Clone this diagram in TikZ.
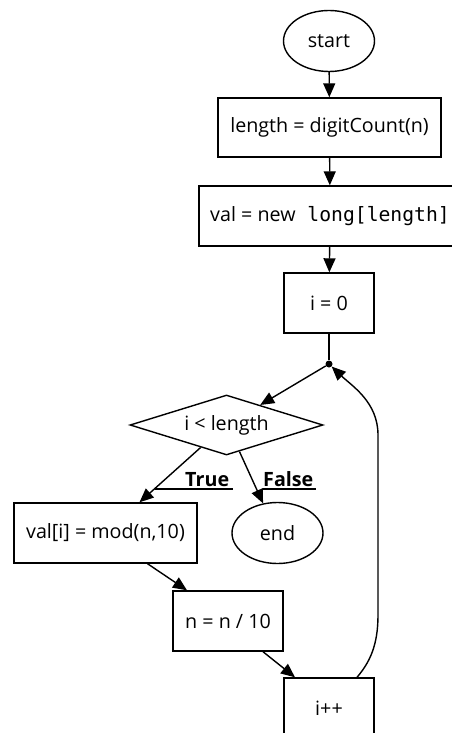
\documentclass[tikz,border=0pt]{standalone}
\usepackage{fontspec}
\setmainfont{Open Sans}
\setmonofont{DejaVu Sans Mono}
\usetikzlibrary{arrows.meta, shapes.geometric}

\begin{document}
\begin{tikzpicture}[
  x=1pt,
  y=-1pt,
  every node/.style={font=\fontsize{19.7}{24}\selectfont},
  stepbox/.style={draw, line width=1.4pt, rectangle, inner sep=0pt},
  terminal/.style={draw, line width=1.4pt, ellipse, inner sep=0pt,
    minimum width=91pt, minimum height=61pt},
  test/.style={draw, line width=1.4pt, diamond, aspect=3.2, inner sep=0pt,
    minimum width=193pt, minimum height=60pt},
  joint/.style={circle, fill, inner sep=0pt, minimum size=7pt},
  flow/.style={line width=1.4pt, -{Triangle[length=14pt, width=12pt]}},
  link/.style={line width=1.4pt},
  branch/.style={font=\fontsize{19.7}{24}\selectfont\bfseries,
    inner xsep=0pt, inner ysep=2pt},
  uline/.style={line width=1.4pt}
]
  \useasboundingbox (0,0) rectangle (452,733);

  % ---- the straight run at the top ------------------------------------
  \node[terminal] (start) at (329,41) {start};
  \node[stepbox, minimum width=223pt, minimum height=59pt] (count)
    at (329.5,127.5) {length = digitCount(n)};
  \node[stepbox, minimum width=262pt, minimum height=60pt] (alloc)
    at (330,216) {val = new\texttt{ long[length]}};
  \node[stepbox, minimum width=90pt, minimum height=60pt] (init)
    at (329,303) {i = 0};
  \node[joint] (meet) at (329,364) {};

  % ---- the test and its two ways out ----------------------------------
  \node[test] (cond) at (226.5,425) {i < length};
  \node[stepbox, minimum width=183pt, minimum height=60pt] (store)
    at (105.5,533) {val[i] = mod(n,10)};
  \node[terminal] (stop) at (277.5,533) {end};
  \node[stepbox, minimum width=110pt, minimum height=60pt] (shrink)
    at (228,621) {n = n / 10};
  \node[stepbox, minimum width=90pt, minimum height=60pt] (inc)
    at (329,708) {i++};

  % ---- branch labels, underlined --------------------------------------
  \node[branch, text width=74pt, align=right, anchor=south west] (yes)
    at (155,489) {True};
  \node[branch, text width=53pt, align=left, anchor=south west] (no)
    at (263,489) {False};
  \draw[uline] (yes.south west) -- ([xshift=4pt]yes.south east);
  \draw[uline] (no.south west) -- (no.south east);

  % ---- connectors -----------------------------------------------------
  \draw[flow] (start) -- (count);
  \draw[flow] (count) -- (alloc);
  \draw[flow] (alloc) -- (init);
  \draw[link] (init) -- (meet);
  \draw[flow] (meet) -- (cond);
  \draw[flow] (cond.221) -- ([xshift=34pt]store.north);
  \draw[flow] (cond.296) -- (stop.116);
  \draw[flow] ([xshift=42pt]store.south) -- ([xshift=-41pt]shrink.north);
  \draw[flow] ([xshift=35pt]shrink.south) -- ([xshift=-34pt]inc.north);

  % the way back up to the loop head
  \draw[flow] ([xshift=28pt]inc.north)
    .. controls (370,662) and (378,645) .. (378,615)
    -- (378,435)
    .. controls (378,402) and (352,386) .. (meet);
\end{tikzpicture}
\end{document}
